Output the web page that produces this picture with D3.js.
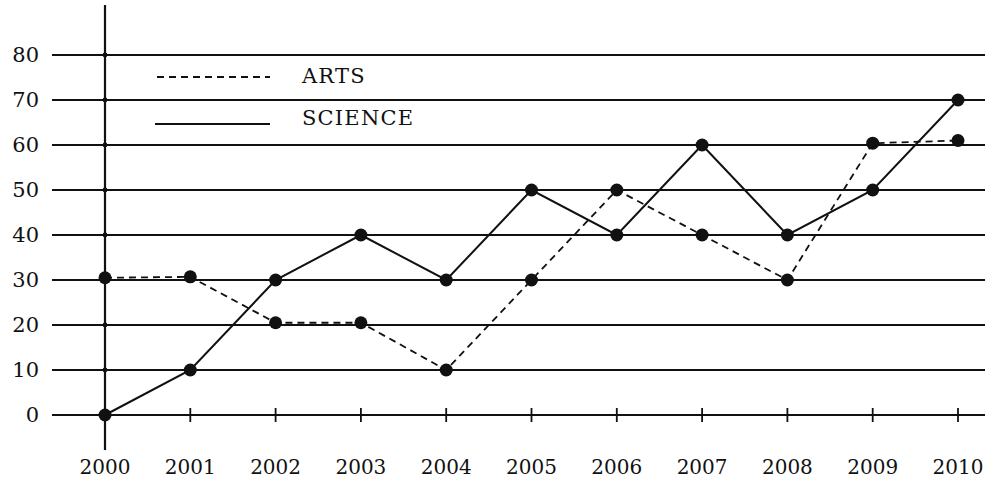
<!DOCTYPE html>
<html><head><meta charset="utf-8">
<script src="https://cdn.jsdelivr.net/npm/d3@7"></script>
<style>body{margin:0;background:#fff}svg{display:block}</style>
</head><body>
<svg id="c" width="990" height="485"></svg>
<script>
const years = ["2000","2001","2002","2003","2004","2005","2006","2007","2008","2009","2010"];
const arts = [30.5,30.7,20.5,20.5,10,30,50,40,30,60.4,61];
const science = [0,10,30,40,30,50,40,60,40,50,70];
const yTicks = [0,10,20,30,40,50,60,70,80];
const legendLabels = ["ARTS","SCIENCE"];

const svg = d3.select("#c");
const font = "'DejaVu Serif', serif";
const x = d3.scalePoint().domain(years).range([105, 958]);
const y = d3.scaleLinear().domain([0,80]).range([415, 55]);

// gridlines
svg.append("g").selectAll("line").data(yTicks).join("line")
  .attr("x1", 52).attr("x2", 985)
  .attr("y1", d=>y(d)).attr("y2", d=>y(d))
  .attr("stroke","#111").attr("stroke-width",1.8);

// y labels
svg.append("g").selectAll("text").data(yTicks).join("text")
  .attr("x", 39).attr("y", d=>y(d)).attr("dy","0.35em")
  .attr("text-anchor","end")
  .attr("font-family",font).attr("font-size",21).attr("fill","#111")
  .text(d=>d);

// y axis vertical
svg.append("line").attr("x1",105).attr("x2",105).attr("y1",5).attr("y2",450)
  .attr("stroke","#111").attr("stroke-width",2.2);
svg.append("g").selectAll("circle").data(yTicks).join("circle")
  .attr("cx",105).attr("cy",d=>y(d)).attr("r",2.4).attr("fill","#111");

// x ticks
svg.append("g").selectAll("line").data(years.slice(1)).join("line")
  .attr("x1",d=>x(d)).attr("x2",d=>x(d))
  .attr("y1",y(0)-7).attr("y2",y(0)+7)
  .attr("stroke","#111").attr("stroke-width",1.8);
svg.append("g").selectAll("text").data(years).join("text")
  .attr("x",d=>x(d)).attr("y",474)
  .attr("text-anchor","middle")
  .attr("font-family",font).attr("font-size",20).attr("fill","#111")
  .text(d=>d);

const line = d3.line().x((d,i)=>x(years[i])).y(d=>y(d));
svg.append("path").datum(arts).attr("d",line).attr("fill","none")
  .attr("stroke","#111").attr("stroke-width",1.8).attr("stroke-dasharray","7,5");
svg.append("path").datum(science).attr("d",line).attr("fill","none")
  .attr("stroke","#111").attr("stroke-width",2);

[arts, science].forEach(s=>{
  svg.append("g").selectAll("circle").data(s).join("circle")
    .attr("cx",(d,i)=>x(years[i])).attr("cy",d=>y(d)).attr("r",6.5).attr("fill","#111");
});

// legend
const lg = svg.append("g");
lg.append("line").attr("x1",157).attr("x2",270).attr("y1",77).attr("y2",77)
  .attr("stroke","#111").attr("stroke-width",1.8).attr("stroke-dasharray","7,5");
lg.append("line").attr("x1",155).attr("x2",270).attr("y1",124).attr("y2",124)
  .attr("stroke","#111").attr("stroke-width",2);
lg.selectAll("text").data(legendLabels).join("text")
  .attr("x",302).attr("y",(d,i)=>i===0?76:118).attr("dy","0.35em")
  .attr("font-family",font).attr("font-size",21).attr("letter-spacing",1.2).attr("fill","#111")
  .text(d=>d);
</script>
</body></html>
